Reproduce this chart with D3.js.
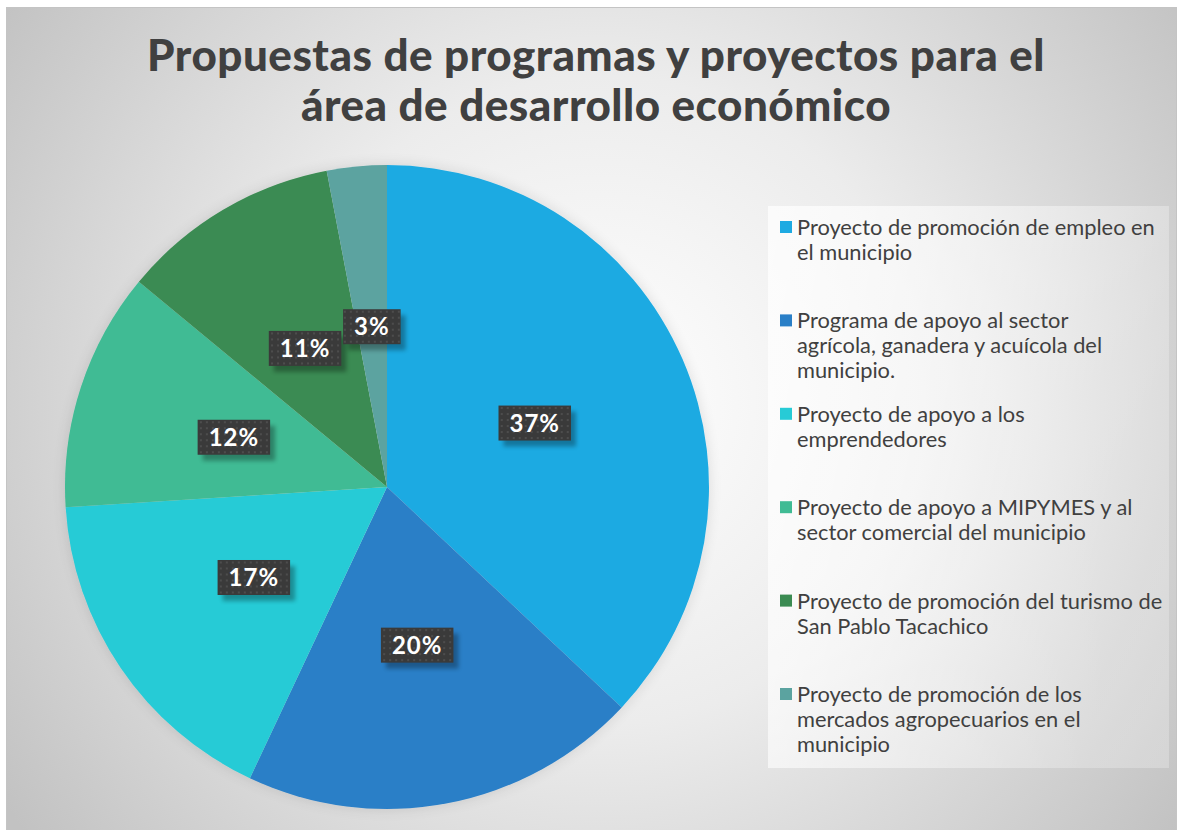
<!DOCTYPE html>
<html>
<head>
<meta charset="utf-8">
<script src="https://cdn.jsdelivr.net/npm/d3@7"></script>
<style>
  body { margin: 0; background: #fff; }
  svg { display: block; }
</style>
</head>
<body>
<div id="chart"></div>
<script>
// data
var categories = [
  "Proyecto de promoción de empleo en el municipio",
  "Programa de apoyo al sector agrícola, ganadera y acuícola del municipio.",
  "Proyecto de apoyo a los emprendedores",
  "Proyecto de apoyo a MIPYMES y al sector comercial del municipio",
  "Proyecto de promoción del turismo de San Pablo Tacachico",
  "Proyecto de promoción de los mercados agropecuarios en el municipio"
];
var values = [37, 20, 17, 12, 11, 3];
var legendLines = [
  ["Proyecto de promoción de empleo en", "el municipio"],
  ["Programa de apoyo al sector", "agrícola, ganadera y acuícola del", "municipio."],
  ["Proyecto de apoyo a los", "emprendedores"],
  ["Proyecto de apoyo a MIPYMES y al", "sector comercial del municipio"],
  ["Proyecto de promoción del turismo de", "San Pablo Tacachico"],
  ["Proyecto de promoción de los", "mercados agropecuarios en el", "municipio"]
];
var colors = ["#1eaae2", "#2a7fc7", "#27cbd6", "#40bb94", "#3b8b52", "#5ba3a0"];
var titleLines = ["Propuestas de programas y proyectos para el", "área de desarrollo económico"];

var width = 1177, height = 830;
var svg = d3.select("#chart").append("svg")
  .attr("width", width)
  .attr("height", height);

var defs = svg.append("defs");

var bg = defs.append("radialGradient")
  .attr("id", "bg")
  .attr("gradientUnits", "userSpaceOnUse")
  .attr("cx", 600).attr("cy", 400).attr("r", 720);
bg.append("stop").attr("offset", 0).attr("stop-color", "#ffffff");
bg.append("stop").attr("offset", 0.45).attr("stop-color", "#ececec");
bg.append("stop").attr("offset", 1).attr("stop-color", "#c2c2c2");

var lg = defs.append("linearGradient")
  .attr("id", "legbg")
  .attr("x1", 0).attr("x2", 1).attr("y1", 0).attr("y2", 0.3);
lg.append("stop").attr("offset", 0).attr("stop-color", "#ffffff").attr("stop-opacity", 0.75);
lg.append("stop").attr("offset", 1).attr("stop-color", "#ffffff").attr("stop-opacity", 0.25);

// dotted texture of the data label boxes
var pat = defs.append("pattern")
  .attr("id", "dots")
  .attr("patternUnits", "userSpaceOnUse")
  .attr("width", 6).attr("height", 6);
pat.append("rect").attr("width", 6).attr("height", 6).attr("fill", "#3a3a3a");
pat.append("rect").attr("x", 2).attr("y", 2).attr("width", 2).attr("height", 2).attr("fill", "#4d4d4d");

var blur = defs.append("filter").attr("id", "soft")
  .attr("x", "-30%").attr("y", "-30%").attr("width", "160%").attr("height", "160%");
blur.append("feGaussianBlur").attr("stdDeviation", 2);

var pieShadow = defs.append("filter").attr("id", "pieshadow")
  .attr("x", "-10%").attr("y", "-10%").attr("width", "120%").attr("height", "120%");
pieShadow.append("feGaussianBlur").attr("in", "SourceAlpha").attr("stdDeviation", 7);
pieShadow.append("feComponentTransfer").append("feFuncA").attr("type", "linear").attr("slope", 0.12);
var merge = pieShadow.append("feMerge");
merge.append("feMergeNode");
merge.append("feMergeNode").attr("in", "SourceGraphic");

// chart area
svg.append("rect")
  .attr("x", 6.5).attr("y", 7.5)
  .attr("width", 1170).attr("height", 823)
  .attr("fill", "url(#bg)")
  .attr("stroke", "#c4c4c4");

// title
var title = svg.append("g").attr("class", "title");
title.selectAll("text")
  .data(titleLines)
  .enter()
  .append("text")
  .attr("x", 596)
  .attr("y", function(d, i) { return 71 + i * 50; })
  .attr("text-anchor", "middle")
  .style("font-family", "Lato, 'Open Sans', sans-serif")
  .style("font-weight", "900")
  .style("font-size", "44px")
  .style("letter-spacing", "0.5px")
  .style("fill", "#404040")
  .text(function(d) { return d; });

// fit line one to the width in the picture
var t0 = title.select("text").node();
var titleSize = 44 * 898 / t0.getComputedTextLength();
title.selectAll("text").style("font-size", titleSize + "px");

// pie
var cx = 387, cy = 487, radius = 322;
var pie = d3.pie().sort(null).value(function(d) { return d; });
var arc = d3.arc().innerRadius(0).outerRadius(radius);
var labelArc = d3.arc().innerRadius(radius / 2).outerRadius(radius / 2);
var arcs = pie(values);

var pieG = svg.append("g")
  .attr("transform", "translate(" + cx + "," + cy + ")")
  .attr("filter", "url(#pieshadow)");

pieG.selectAll("path")
  .data(arcs)
  .enter()
  .append("path")
  .attr("d", arc)
  .attr("fill", function(d, i) { return colors[i]; });

// data labels
var labels = svg.append("g")
  .attr("transform", "translate(" + cx + "," + cy + ")")
  .selectAll("g")
  .data(arcs)
  .enter()
  .append("g")
  .attr("transform", function(d) {
    var c = labelArc.centroid(d);
    return "translate(" + c[0] + "," + c[1] + ")";
  });

var labelTexts = labels.append("text")
  .attr("text-anchor", "middle")
  .attr("y", 8.5)
  .style("font-family", "Lato, 'Open Sans', sans-serif")
  .style("font-weight", "bold")
  .style("font-size", "24px")
  .style("letter-spacing", "1px")
  .style("fill", "#ffffff")
  .text(function(d) { return d.data + "%"; });

labels.each(function() {
  var g = d3.select(this);
  var w = g.select("text").node().getComputedTextLength() + 22;
  var h = 35;
  g.insert("rect", "text")
    .attr("x", -w / 2 + 5).attr("y", -h / 2 + 6)
    .attr("width", w).attr("height", h)
    .attr("fill", "#000")
    .attr("opacity", 0.3)
    .attr("filter", "url(#soft)");
  g.insert("rect", "text")
    .attr("x", -w / 2).attr("y", -h / 2)
    .attr("width", w).attr("height", h)
    .attr("fill", "url(#dots)");
});

// legend
svg.append("rect")
  .attr("x", 768).attr("y", 206)
  .attr("width", 401).attr("height", 562)
  .attr("fill", "url(#legbg)");

var legend = svg.append("g").selectAll("g")
  .data(legendLines)
  .enter()
  .append("g")
  .attr("transform", function(d, i) { return "translate(780," + (235 + i * 93.4) + ")"; });

legend.append("rect")
  .attr("x", 0).attr("y", -14)
  .attr("width", 12).attr("height", 12)
  .attr("fill", function(d, i) { return colors[i]; });

var legendText = legend.append("text")
  .attr("x", 17)
  .style("font-family", "Lato, 'Open Sans', sans-serif")
  .style("font-size", "19px")
  .style("fill", "#404040");

legendText.selectAll("tspan")
  .data(function(d) { return d; })
  .enter()
  .append("tspan")
  .attr("x", 17)
  .attr("y", function(d, i) { return i * 25; })
  .text(function(d) { return d; });

// scale legend font so the first line matches the picture width
var firstLine = legendText.select("tspan").node();
var legSize = 19 * 358 / firstLine.getComputedTextLength();
legendText.style("font-size", legSize + "px");
</script>
</body>
</html>
